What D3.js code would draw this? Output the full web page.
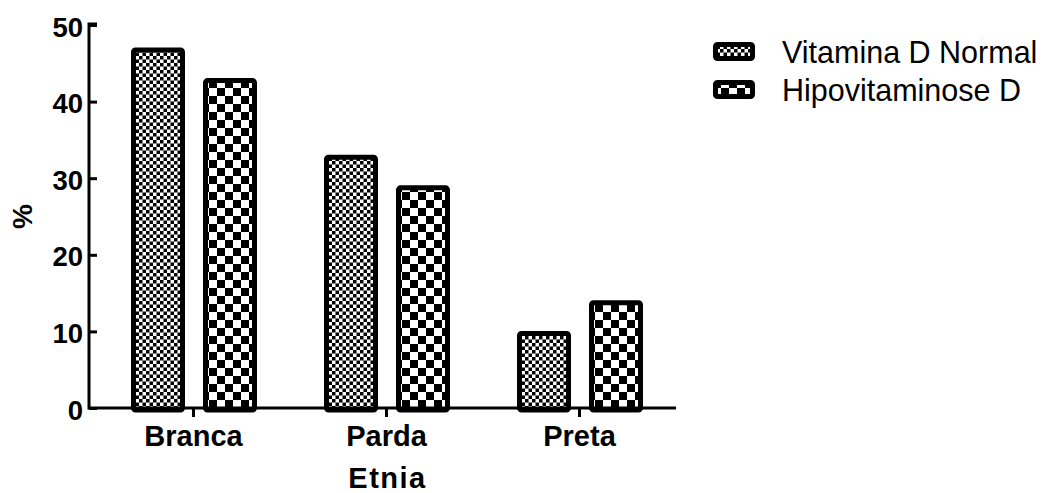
<!DOCTYPE html>
<html>
<head>
<meta charset="utf-8">
<script src="https://cdn.jsdelivr.net/npm/d3@7"></script>
<style>
  body { margin: 0; background: #fff; }
  text { font-family: "Liberation Sans", Arial, sans-serif; }
</style>
</head>
<body>
<svg id="chart" width="1045" height="493"></svg>
<script>
// data
const categories = ['Branca', 'Parda', 'Preta'];
const seriesNames = ['Vitamina D Normal', 'Hipovitaminose D'];
const normalValues = [47, 33, 10];
const hipoValues = [43, 29, 14];
const yTicks = [0, 10, 20, 30, 40, 50];

const seriesValues = [normalValues, hipoValues];
const patternIds = ['fineChecker', 'coarseChecker'];

let svg = d3.select('#chart');

// checkerboard patterns
let defs = svg.append('defs');
function checker(id, cell) {
  let p = defs.append('pattern')
    .attr('id', id)
    .attr('patternUnits', 'userSpaceOnUse')
    .attr('width', cell * 2)
    .attr('height', cell * 2);
  p.append('rect').attr('width', cell * 2).attr('height', cell * 2).attr('fill', '#fff');
  p.append('rect').attr('x', 0).attr('y', 0).attr('width', cell).attr('height', cell).attr('fill', '#000');
  p.append('rect').attr('x', cell).attr('y', cell).attr('width', cell).attr('height', cell).attr('fill', '#000');
}
checker('fineChecker', 3.5);
checker('coarseChecker', 8);

let plotLeft = 97, plotRight = 676, plotTop = 25, plotBottom = 408;

let xScale = d3.scaleBand()
  .domain(categories)
  .range([plotLeft, plotRight])
  .padding(0);

let xInner = d3.scaleBand()
  .domain(d3.range(seriesNames.length))
  .range([34, xScale.bandwidth() - 33])
  .paddingInner(0.25);

let yScale = d3.scaleLinear()
  .domain([0, 50])
  .range([plotBottom, plotTop]);

// bars
let rows = categories.map((c, i) => ({ cat: c, vals: seriesValues.map(s => s[i]) }));
let groups = svg.selectAll('g.grp')
  .data(rows)
  .enter()
  .append('g')
  .attr('class', 'grp')
  .attr('transform', d => `translate(${xScale(d.cat)},0)`);

groups.selectAll('rect')
  .data(d => d.vals.map((v, k) => ({ v: v, k: k })))
  .enter()
  .append('rect')
  .attr('x', d => xInner(d.k) + 2.5)
  .attr('y', d => yScale(d.v) + 2)
  .attr('width', xInner.bandwidth() - 5)
  .attr('height', d => plotBottom - yScale(d.v))
  .attr('rx', 2)
  .attr('fill', d => `url(#${patternIds[d.k]})`)
  .attr('stroke', '#000')
  .attr('stroke-width', 5);

// axes
let yAxis = svg.append('g')
  .attr('transform', `translate(${plotLeft},0)`)
  .call(d3.axisLeft(yScale).tickValues(yTicks).tickSize(8).tickPadding(6));
let xAxis = svg.append('g')
  .attr('transform', `translate(0,${plotBottom})`)
  .call(d3.axisBottom(xScale).tickSize(9).tickPadding(8));

[yAxis, xAxis].forEach(a => {
  a.select('.domain').attr('stroke-width', 3);
  a.selectAll('.tick line').attr('stroke-width', 3);
  a.selectAll('.tick text')
    .attr('font-family', '"Liberation Sans", Arial, sans-serif')
    .attr('font-weight', 'bold')
    .attr('fill', '#000');
});
yAxis.select('.domain').attr('d', `M0,${plotTop - 1}H-8V${plotBottom}H0`);
yAxis.selectAll('.tick text').attr('font-size', 27.5).attr('dy', '0.4em');
xAxis.select('.domain').attr('d', `M${plotLeft},0H${plotRight}`);
xAxis.selectAll('.tick text').attr('font-size', 29).attr('dy', 21);

// axis titles
svg.append('text')
  .attr('text-anchor', 'middle')
  .attr('transform', `translate(32,${(plotTop + plotBottom) / 2}) rotate(-90)`)
  .attr('font-weight', 'bold')
  .attr('font-size', 28)
  .text('%');

svg.append('text')
  .attr('text-anchor', 'middle')
  .attr('x', (plotLeft + plotRight) / 2 + 1)
  .attr('y', 488)
  .attr('font-weight', 'bold')
  .attr('font-size', 29)
  .attr('letter-spacing', 1.5)
  .text('Etnia');

// legend
let legend = svg.selectAll('g.leg')
  .data(seriesNames)
  .enter()
  .append('g')
  .attr('class', 'leg')
  .attr('transform', (d, i) => `translate(713,${42 + i * 38})`);

legend.append('rect')
  .attr('x', 2.5)
  .attr('y', 2.5)
  .attr('width', 37)
  .attr('height', 14)
  .attr('rx', 2)
  .attr('fill', (d, i) => `url(#${patternIds[i]})`)
  .attr('stroke', '#000')
  .attr('stroke-width', 5);

legend.append('text')
  .attr('x', 69)
  .attr('y', 21)
  .attr('font-size', 30.5)
  .text(d => d);
</script>
</body>
</html>
